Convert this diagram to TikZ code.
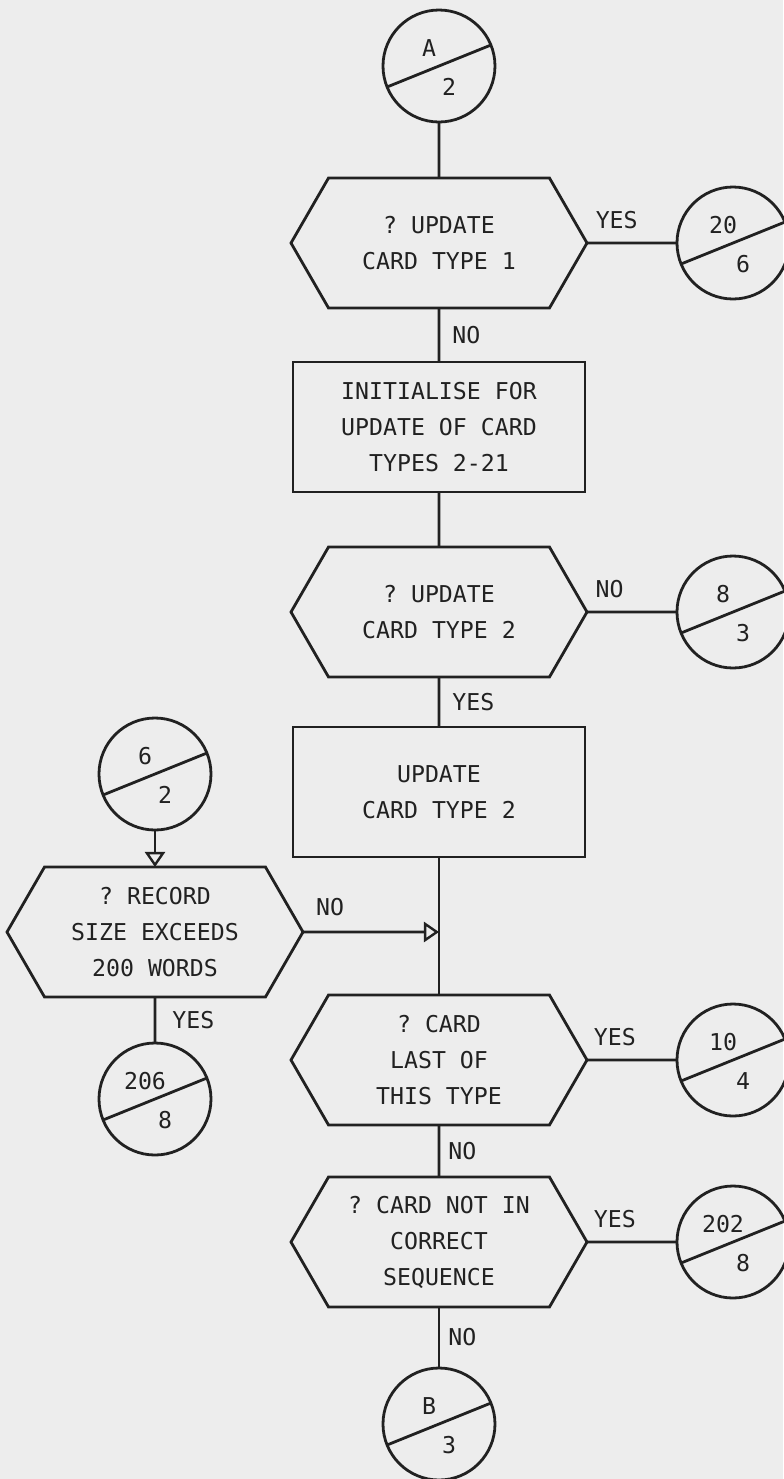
\documentclass[tikz,border=0pt]{standalone}
\usepackage{fontspec}
\setmonofont{DejaVu Sans Mono}
\usepackage{tikz}
\usetikzlibrary{arrows.meta,positioning,shapes.symbols}
\definecolor{paper}{gray}{0.93}
\definecolor{ink}{gray}{0.13}

\begin{document}
\begin{tikzpicture}[
    node distance=27pt,
    every node/.style={font=\ttfamily\fontsize{11.6}{18}\selectfont, text=ink},
    decision/.style={signal, signal to=east and west, signal pointer angle=120, draw=ink,
        line width=1.4pt, outer sep=0pt, minimum width=148pt, minimum height=65pt,
        inner sep=0pt, align=center},
    process/.style={rectangle, draw=ink, line width=1.4pt, outer sep=0pt, minimum width=146pt,
        minimum height=65pt, inner sep=0pt, align=center},
    offpage/.style 2 args={circle, draw=ink, line width=1.4pt, outer sep=0pt, minimum size=56pt,
        inner sep=0pt,
        path picture={\draw[ink, line width=1.4pt] (path picture bounding box.center) +(202:40pt) -- +(22:40pt);},
        label={[xshift=-5pt, yshift=9pt]center:#1},
        label={[xshift=5pt, yshift=-10.5pt]center:#2}},
    flow/.style={ink, line width=1.4pt},
    flowarrow/.style={flow, -{Triangle[open, length=7.5pt, width=10pt, line width=1.2pt]}},
    answer/.style={inner sep=0pt},
]
    % Page
    \path[use as bounding box, fill=paper] (-219.5pt,33pt) rectangle (172pt,-706.5pt);

    % Entry
    \node[offpage={A}{2}] (A) at (0,0) {};

    % First test: card type 1
    \node[decision, below=28pt of A] (type1) {? UPDATE\\CARD TYPE 1};
    \node[offpage={20}{6}, right=45pt of type1] (c20) {};
    \draw[flow] (A) -- (type1);
    \draw[flow] (type1) -- node[answer, above=6.5pt, pos=0.33] {YES} (c20);

    % Initialise
    \node[process, below=27pt of type1] (init) {INITIALISE FOR\\UPDATE OF CARD\\TYPES 2-21};
    \draw[flow] (type1) -- node[answer, right=6pt] {NO} (init);

    % Second test: card type 2
    \node[decision, below=27.5pt of init] (type2) {? UPDATE\\CARD TYPE 2};
    \node[offpage={8}{3}, right=45pt of type2] (c8) {};
    \draw[flow] (init) -- (type2);
    \draw[flow] (type2) -- node[answer, above=6.5pt, pos=0.25] {NO} (c8);

    % Update
    \node[process, below=25pt of type2] (upd) {UPDATE\\CARD TYPE 2};
    \draw[flow] (type2) -- node[answer, right=6pt] {YES} (upd);
    \coordinate (merge) at ([yshift=-37.5pt]upd.south);

    % Side branch: record size
    \node[decision, left=68pt of merge] (rec) {? RECORD\\SIZE EXCEEDS\\200 WORDS};
    \node[offpage={6}{2}, above=18.5pt of rec] (c6) {};
    \node[offpage={206}{8}, below=23pt of rec] (c206) {};
    \draw[flowarrow] (c6) -- (rec);
    \draw[flowarrow] (rec) -- node[answer, above=7.5pt, pos=0.2] {NO} (merge);
    \draw[flow] (rec) -- node[answer, right=8pt] {YES} (c206);

    % Last card of type
    \node[decision, below=69pt of upd] (last) {? CARD\\LAST OF\\THIS TYPE};
    \node[offpage={10}{4}, right=45pt of last] (c10) {};
    \draw[flow] (upd) -- (last);
    \draw[flow] (last) -- node[answer, above=6.5pt, pos=0.31] {YES} (c10);

    % Sequence check
    \node[decision, below=26pt of last] (seq) {? CARD NOT IN\\CORRECT\\SEQUENCE};
    \node[offpage={202}{8}, right=45pt of seq] (c202) {};
    \draw[flow] (last) -- node[answer, right=4pt] {NO} (seq);
    \draw[flow] (seq) -- node[answer, above=6.5pt, pos=0.31] {YES} (c202);

    % Exit
    \node[offpage={B}{3}, below=30.5pt of seq] (B) {};
    \draw[flow] (seq) -- node[answer, right=4pt] {NO} (B);
\end{tikzpicture}
\end{document}
